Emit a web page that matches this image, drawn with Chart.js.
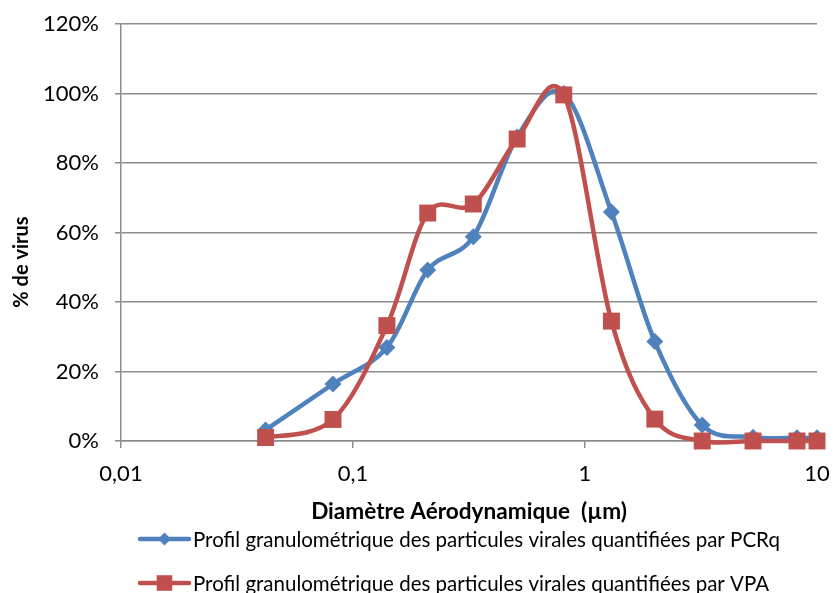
<!DOCTYPE html>
<html lang="fr">
<head>
<meta charset="utf-8">
<title>Profil granulométrique des particules virales</title>
<script src="https://cdn.jsdelivr.net/npm/chart.js@4/dist/chart.umd.min.js"></script>
<style>
  html, body { margin: 0; padding: 0; background: #ffffff; overflow: hidden; }
  #wrap { width: 833px; height: 593px; }
</style>
</head>
<body>
<div id="wrap"><canvas id="chart" width="833" height="593"></canvas></div>
<script>
// Aerodynamic diameter of each impactor stage (µm)
const diameters = [0.042, 0.082, 0.14, 0.21, 0.33, 0.51, 0.81, 1.3, 2.0, 3.2, 5.3, 8.2, 10];
// Share of virus per stage (%)
const pcrqValues = [3.2, 16.4, 26.9, 49.2, 58.8, 87.5, 100, 65.9, 28.6, 4.6, 1.1, 0.9, 0.9];
const vpaValues  = [1.0, 6.2, 33.2, 65.6, 68.2, 86.9, 99.6, 34.5, 6.3, 0, 0, 0, 0];

const seriesLabels = [
  "Profil granulométrique des particules virales quantifiées par PCRq",
  "Profil granulométrique des particules virales quantifiées par VPA"
];
const xTickValues = [0.01, 0.1, 1, 10];
const xTickLabels = ["0,01", "0,1", "1", "10"];
const yTickValues = [0, 20, 40, 60, 80, 100, 120];
const xTitle = "Diamètre Aérodynamique  (µm)";
const yTitle = "% de virus";

const BLUE = "#4F81BD";
const RED = "#C0504D";
const GRID = "#8c8c8c";
const FONT = "Lato, 'Open Sans', sans-serif";

function toPoints(values) {
  return diameters.map((d, i) => ({ x: d, y: values[i] }));
}

function drawMarker(ctx, style, x, y, r, color) {
  ctx.save();
  ctx.fillStyle = color;
  ctx.beginPath();
  if (style === "rectRot") {
    ctx.moveTo(x, y - r);
    ctx.lineTo(x + r, y);
    ctx.lineTo(x, y + r);
    ctx.lineTo(x - r, y);
    ctx.closePath();
  } else {
    const s = r * Math.SQRT1_2;
    ctx.rect(x - s, y - s, 2 * s, 2 * s);
  }
  ctx.fill();
  ctx.restore();
}

// Spreadsheet-style smoothing: Catmull-Rom tangents (neighbour chord / 6)
// applied to the bezier control points of each line element.
const smoothing = {
  id: "smoothing",
  beforeDatasetDraw(chart, args) {
    const line = args.meta.dataset;
    if (!line) return;
    if (typeof line.updateControlPoints === "function") {
      line.updateControlPoints(chart.chartArea, "x");
    }
    const pts = args.meta.data;
    const n = pts.length;
    for (let i = 0; i < n; i++) {
      const p = pts[i];
      const prev = pts[Math.max(i - 1, 0)];
      const next = pts[Math.min(i + 1, n - 1)];
      const tx = (next.x - prev.x) / 6;
      const ty = (next.y - prev.y) / 6;
      p.cp1x = p.x - tx;
      p.cp1y = p.y - ty;
      p.cp2x = p.x + tx;
      p.cp2y = p.y + ty;
    }
  }
};

// Vertical axis title and the stacked legend under the axis title
const decorations = {
  id: "decorations",
  afterDraw(chart) {
    const ctx = chart.ctx;
    ctx.save();
    ctx.fillStyle = "#000";
    ctx.font = "bold 20px " + FONT;
    ctx.textAlign = "center";
    ctx.textBaseline = "middle";
    ctx.translate(22, 262);
    ctx.rotate(-Math.PI / 2);
    ctx.fillText(yTitle, 0, 0);
    ctx.restore();

    const rows = [539, 583];
    chart.data.datasets.forEach((ds, i) => {
      const y = rows[i];
      ctx.save();
      ctx.strokeStyle = ds.borderColor;
      ctx.lineWidth = ds.borderWidth;
      ctx.lineCap = "round";
      ctx.beginPath();
      ctx.moveTo(140, y);
      ctx.lineTo(189, y);
      ctx.stroke();
      ctx.restore();
      drawMarker(ctx, ds.pointStyle, 164.5, y, ds.pointStyle === "rectRot" ? 6.5 : 11, ds.pointBackgroundColor);
      ctx.save();
      ctx.fillStyle = "#000";
      ctx.font = "20.5px " + FONT;
      ctx.textAlign = "left";
      ctx.textBaseline = "middle";
      ctx.fillText(ds.label, 193, y + 1);
      ctx.restore();
    });
  }
};

new Chart(document.getElementById("chart"), {
  type: "line",
  data: {
    datasets: [
      {
        label: seriesLabels[0],
        data: toPoints(pcrqValues),
        borderColor: BLUE,
        backgroundColor: BLUE,
        pointBackgroundColor: BLUE,
        pointBorderColor: BLUE,
        borderWidth: 4.5,
        pointStyle: "rectRot",
        pointRadius: 8.5,
        pointBorderWidth: 0,
        tension: 0.4,
        order: 1,
        clip: false
      },
      {
        label: seriesLabels[1],
        data: toPoints(vpaValues),
        borderColor: RED,
        backgroundColor: RED,
        pointBackgroundColor: RED,
        pointBorderColor: RED,
        borderWidth: 4.5,
        pointStyle: "rect",
        pointRadius: 12,
        pointBorderWidth: 0,
        tension: 0.4,
        order: 0,
        clip: false
      }
    ]
  },
  options: {
    responsive: false,
    animation: false,
    events: [],
    layout: { padding: { left: 0, right: 16, top: 24, bottom: 68 } },
    plugins: {
      legend: { display: false },
      tooltip: { enabled: false }
    },
    scales: {
      x: {
        type: "logarithmic",
        min: 0.01,
        max: 10,
        afterBuildTicks(scale) {
          scale.ticks = xTickValues.map(v => ({ value: v, major: true }));
        },
        afterFit(scale) {
          scale.height = 84;
          scale.paddingLeft = 0;
          scale.paddingRight = 0;
        },
        ticks: {
          autoSkip: false,
          maxRotation: 0,
          padding: 13,
          color: "#000",
          font: { family: FONT, size: 22 },
          callback(value) {
            const i = xTickValues.indexOf(value);
            return i >= 0 ? xTickLabels[i] : "";
          }
        },
        grid: {
          drawOnChartArea: false,
          drawTicks: true,
          tickLength: 7,
          color: GRID,
          lineWidth: 1.5
        },
        border: { display: true, color: GRID, width: 1.5 },
        title: {
          display: true,
          text: xTitle,
          color: "#000",
          font: { family: FONT, size: 22.6, weight: "bold" },
          padding: { top: 0, bottom: 0 }
        }
      },
      y: {
        min: 0,
        max: 120,
        afterBuildTicks(scale) {
          scale.ticks = yTickValues.map(v => ({ value: v }));
        },
        afterFit(scale) {
          scale.width = 121;
          scale.paddingTop = 0;
          scale.paddingBottom = 0;
        },
        ticks: {
          padding: 16,
          color: "#000",
          font: { family: FONT, size: 22 },
          callback: v => v + "%"
        },
        grid: {
          color: GRID,
          lineWidth: 1.5,
          tickLength: 6
        },
        border: { display: true, color: GRID, width: 1.5 }
      }
    }
  },
  plugins: [smoothing, decorations]
});
</script>
</body>
</html>
